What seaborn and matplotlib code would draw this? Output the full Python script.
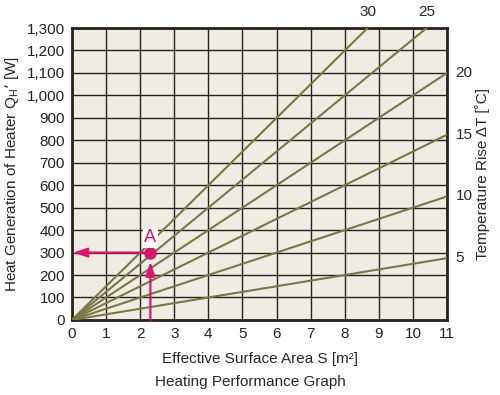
import matplotlib
matplotlib.use('Agg')
import matplotlib.pyplot as plt
import seaborn as sns
import pandas as pd

# Temperature rise lines (start at origin, end at edge)
delta_t = [5, 10, 15, 20, 25, 30]
end_area = [11, 11, 11, 11, 10.4, 8.67]
end_heat = [275, 550, 825, 1100, 1300, 1300]

# Example point A
point_area = 2.3
point_heat = 300

x_ticks = list(range(0, 12))
y_ticks = list(range(0, 1400, 100))

rows = []
for t, s, q in zip(delta_t, end_area, end_heat):
    rows.append({'dT': t, 'S': 0, 'Q': 0})
    rows.append({'dT': t, 'S': s, 'Q': q})
df = pd.DataFrame(rows)

sns.set_style('white')
plt.rcParams['font.family'] = ['Liberation Sans Narrow', 'Liberation Sans', 'DejaVu Sans']

fig = plt.figure(figsize=(5.0, 3.95), dpi=100)
ax = fig.add_axes([0.144, 0.190, 0.750, 0.739])
ax.set_facecolor('#efece4')

frame = '#2b211c'
line_col = '#787842'
pink = '#d8156f'

sns.lineplot(data=df, x='S', y='Q', units='dT', estimator=None,
             color=line_col, lw=1.5, ax=ax, legend=False, zorder=3)

ax.set_xlim(0, 11)
ax.set_ylim(0, 1300)
ax.set_xticks(x_ticks)
ax.set_yticks(y_ticks)
ax.set_yticklabels([f'{v:,}' for v in y_ticks])
ax.grid(True, color=frame, lw=1.0, zorder=1)
ax.set_axisbelow(True)
for sp in ax.spines.values():
    sp.set_color(frame)
    sp.set_linewidth(2)
ax.tick_params(axis='both', length=0, labelsize=11, pad=5, colors='#222222')

ax.set_xlabel('Effective Surface Area S [m²]', fontsize=11, labelpad=8)
ax.set_ylabel("Heat Generation of Heater Q$_{\\mathregular{H}}$’ [W]", fontsize=11, labelpad=4)

# labels for the lines
for t, s, q in zip(delta_t, end_area, end_heat):
    if s >= 11:
        ax.text(11.25, q, str(t), fontsize=11, va='center', ha='left', clip_on=False)
    else:
        ax.text(s, 1340, str(t), fontsize=11, va='bottom', ha='center', clip_on=False)

fig.text(0.966, 0.56, 'Temperature Rise ΔT [˚C]', rotation=90, fontsize=11,
         va='center', ha='center')
fig.text(0.5, 0.033, 'Heating Performance Graph', fontsize=11, ha='center', va='center')

# point A with arrows
head = '-|>,head_width=0.2,head_length=0.6'
ax.annotate('', xy=(point_area, point_heat - 40), xytext=(point_area, 0),
            arrowprops=dict(arrowstyle=head, color=pink, lw=1.6, mutation_scale=14,
                            shrinkA=0, shrinkB=0), zorder=5)
ax.annotate('', xy=(0.03, point_heat), xytext=(point_area, point_heat),
            arrowprops=dict(arrowstyle=head, color=pink, lw=1.6, mutation_scale=14,
                            shrinkA=0, shrinkB=0), zorder=5)
ax.plot([point_area], [point_heat], 'o', color=pink, ms=8, zorder=6)
ax.text(point_area, point_heat + 28, 'A', color=pink, fontsize=13, ha='center', va='bottom',
        bbox=dict(facecolor='white', edgecolor='none', pad=1), zorder=6)

fig.savefig('out.png', dpi=100)
